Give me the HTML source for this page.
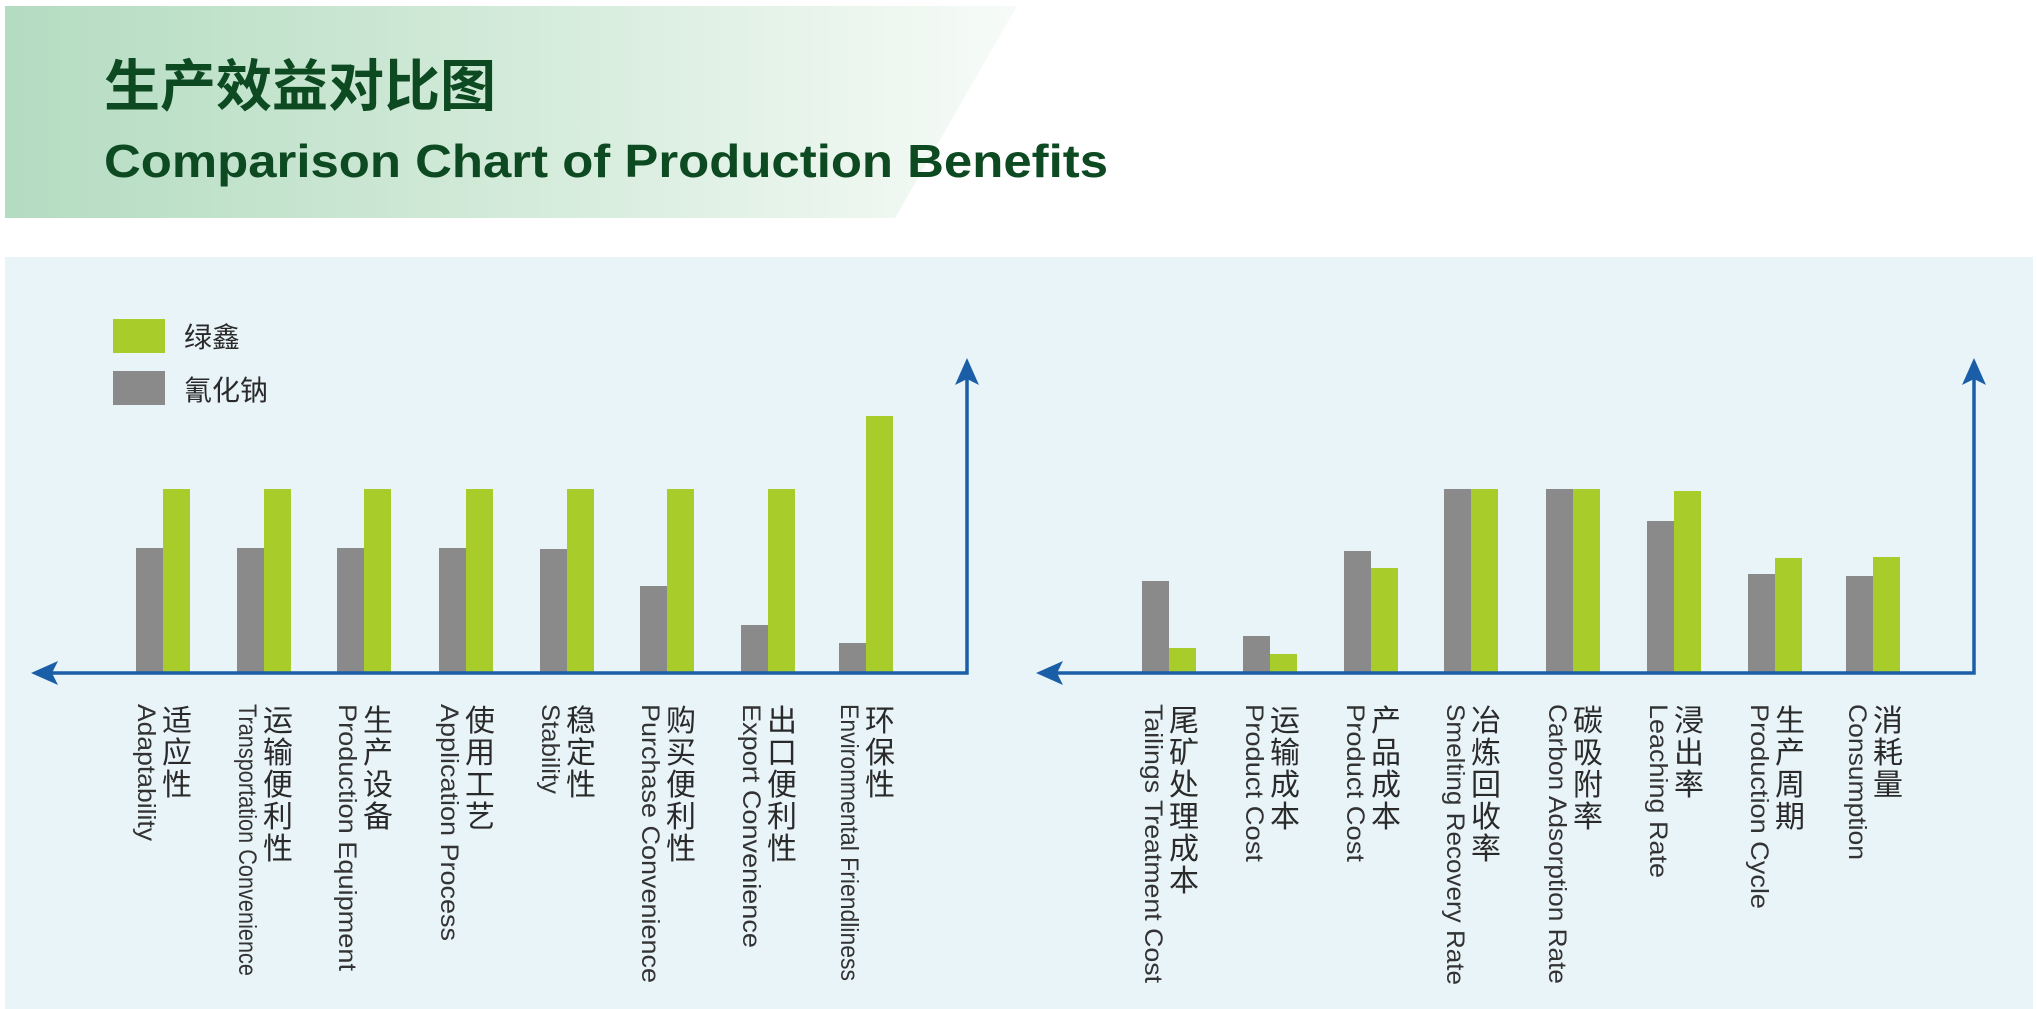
<!DOCTYPE html>
<html><head><meta charset="utf-8"><style>
html,body{margin:0;padding:0;background:#fff;}
svg{display:block;}
.cn{font-family:"Liberation Sans","Noto Sans CJK SC",sans-serif;font-size:30px;fill:#2a2a2a;}
.en{font-family:"Liberation Sans","Noto Sans CJK SC",sans-serif;font-size:25px;fill:#333;}
</style></head><body>
<svg width="2037" height="1009" viewBox="0 0 2037 1009" xmlns="http://www.w3.org/2000/svg">
<defs>
<linearGradient id="bn" x1="0" x2="1" y1="0" y2="0">
<stop offset="0" stop-color="#b4dcc1"/><stop offset="0.55" stop-color="#d6ecdc"/><stop offset="1" stop-color="#f7fbf8"/>
</linearGradient>
</defs>
<rect width="2037" height="1009" fill="#fff"/>
<polygon points="5,6 1017,6 895,218 5,218" fill="url(#bn)"/>
<text x="104" y="106" font-family="Liberation Sans,'Noto Sans CJK SC',sans-serif" font-weight="bold" font-size="56" fill="#0d4a22">生产效益对比图</text>
<text x="104" y="177" font-family="Liberation Sans,sans-serif" font-weight="bold" font-size="46" fill="#0d4a22" textLength="1004" lengthAdjust="spacingAndGlyphs">Comparison Chart of Production Benefits</text>
<rect x="5" y="257" width="2028" height="752" fill="#e9f4f9"/>
<rect x="113" y="319" width="52" height="34" fill="#a8cc2a"/>
<rect x="113" y="371" width="52" height="34" fill="#8a8a8a"/>
<text x="184" y="347" class="cn" style="font-size:28px">绿鑫</text>
<text x="184" y="400" class="cn" style="font-size:28px">氰化钠</text>
<g>
<rect x="136" y="548" width="27" height="125" fill="#8a8a8a"/><rect x="163" y="489" width="27" height="184" fill="#a8cc2a"/>
<rect x="237" y="548" width="27" height="125" fill="#8a8a8a"/><rect x="264" y="489" width="27" height="184" fill="#a8cc2a"/>
<rect x="337" y="548" width="27" height="125" fill="#8a8a8a"/><rect x="364" y="489" width="27" height="184" fill="#a8cc2a"/>
<rect x="439" y="548" width="27" height="125" fill="#8a8a8a"/><rect x="466" y="489" width="27" height="184" fill="#a8cc2a"/>
<rect x="540" y="549" width="27" height="124" fill="#8a8a8a"/><rect x="567" y="489" width="27" height="184" fill="#a8cc2a"/>
<rect x="640" y="586" width="27" height="87" fill="#8a8a8a"/><rect x="667" y="489" width="27" height="184" fill="#a8cc2a"/>
<rect x="741" y="625" width="27" height="48" fill="#8a8a8a"/><rect x="768" y="489" width="27" height="184" fill="#a8cc2a"/>
<rect x="839" y="643" width="27" height="30" fill="#8a8a8a"/><rect x="866" y="416" width="27" height="257" fill="#a8cc2a"/>
<rect x="1142" y="581" width="27" height="92" fill="#8a8a8a"/><rect x="1169" y="648" width="27" height="25" fill="#a8cc2a"/>
<rect x="1243" y="636" width="27" height="37" fill="#8a8a8a"/><rect x="1270" y="654" width="27" height="19" fill="#a8cc2a"/>
<rect x="1344" y="551" width="27" height="122" fill="#8a8a8a"/><rect x="1371" y="568" width="27" height="105" fill="#a8cc2a"/>
<rect x="1444" y="489" width="27" height="184" fill="#8a8a8a"/><rect x="1471" y="489" width="27" height="184" fill="#a8cc2a"/>
<rect x="1546" y="489" width="27" height="184" fill="#8a8a8a"/><rect x="1573" y="489" width="27" height="184" fill="#a8cc2a"/>
<rect x="1647" y="521" width="27" height="152" fill="#8a8a8a"/><rect x="1674" y="491" width="27" height="182" fill="#a8cc2a"/>
<rect x="1748" y="574" width="27" height="99" fill="#8a8a8a"/><rect x="1775" y="558" width="27" height="115" fill="#a8cc2a"/>
<rect x="1846" y="576" width="27" height="97" fill="#8a8a8a"/><rect x="1873" y="557" width="27" height="116" fill="#a8cc2a"/>
</g>
<g stroke="#1b5ea8" stroke-width="3.5" fill="none">
<polyline points="45,673 967,673 967,372"/>
<polyline points="1050,673 1974,673 1974,372"/>
</g>
<g fill="#1b5ea8">
<polygon points="31,673 58,661 52,673 58,685"/>
<polygon points="967,358 955,385 967,379 979,385"/>
<polygon points="1036,673 1063,661 1057,673 1063,685"/>
<polygon points="1974,358 1962,385 1974,379 1986,385"/>
</g>
<g text-anchor="middle" class="cn">
<g transform="translate(177,0)"><text y="731">适</text><text y="763">应</text><text y="795">性</text></g>
<g transform="translate(278,0)"><text y="731">运</text><text y="763">输</text><text y="795">便</text><text y="827">利</text><text y="859">性</text></g>
<g transform="translate(378,0)"><text y="731">生</text><text y="763">产</text><text y="795">设</text><text y="827">备</text></g>
<g transform="translate(480,0)"><text y="731">使</text><text y="763">用</text><text y="795">工</text><text y="827">艺</text></g>
<g transform="translate(581,0)"><text y="731">稳</text><text y="763">定</text><text y="795">性</text></g>
<g transform="translate(681,0)"><text y="731">购</text><text y="763">买</text><text y="795">便</text><text y="827">利</text><text y="859">性</text></g>
<g transform="translate(782,0)"><text y="731">出</text><text y="763">口</text><text y="795">便</text><text y="827">利</text><text y="859">性</text></g>
<g transform="translate(880,0)"><text y="731">环</text><text y="763">保</text><text y="795">性</text></g>
<g transform="translate(1184,0)"><text y="731">尾</text><text y="763">矿</text><text y="795">处</text><text y="827">理</text><text y="859">成</text><text y="891">本</text></g>
<g transform="translate(1285,0)"><text y="731">运</text><text y="763">输</text><text y="795">成</text><text y="827">本</text></g>
<g transform="translate(1386,0)"><text y="731">产</text><text y="763">品</text><text y="795">成</text><text y="827">本</text></g>
<g transform="translate(1486,0)"><text y="731">冶</text><text y="763">炼</text><text y="795">回</text><text y="827">收</text><text y="859">率</text></g>
<g transform="translate(1588,0)"><text y="731">碳</text><text y="763">吸</text><text y="795">附</text><text y="827">率</text></g>
<g transform="translate(1689,0)"><text y="731">浸</text><text y="763">出</text><text y="795">率</text></g>
<g transform="translate(1790,0)"><text y="731">生</text><text y="763">产</text><text y="795">周</text><text y="827">期</text></g>
<g transform="translate(1888,0)"><text y="731">消</text><text y="763">耗</text><text y="795">量</text></g>
</g>
<g class="en" lengthAdjust="spacingAndGlyphs">
<text transform="translate(138,704) rotate(90)" textLength="137" lengthAdjust="spacingAndGlyphs">Adaptability</text>
<text transform="translate(239,704) rotate(90)" textLength="272" lengthAdjust="spacingAndGlyphs">Transportation Convenience</text>
<text transform="translate(339,704) rotate(90)" textLength="267" lengthAdjust="spacingAndGlyphs">Production Equipment</text>
<text transform="translate(441,704) rotate(90)" textLength="237" lengthAdjust="spacingAndGlyphs">Application Process</text>
<text transform="translate(542,704) rotate(90)" textLength="90" lengthAdjust="spacingAndGlyphs">Stability</text>
<text transform="translate(642,704) rotate(90)" textLength="279" lengthAdjust="spacingAndGlyphs">Purchase Convenience</text>
<text transform="translate(743,704) rotate(90)" textLength="244" lengthAdjust="spacingAndGlyphs">Export Convenience</text>
<text transform="translate(841,704) rotate(90)" textLength="277" lengthAdjust="spacingAndGlyphs">Environmental Friendliness</text>
<text transform="translate(1145,704) rotate(90)" textLength="279" lengthAdjust="spacingAndGlyphs">Tailings Treatment Cost</text>
<text transform="translate(1246,704) rotate(90)" textLength="158" lengthAdjust="spacingAndGlyphs">Product Cost</text>
<text transform="translate(1347,704) rotate(90)" textLength="158" lengthAdjust="spacingAndGlyphs">Product Cost</text>
<text transform="translate(1447,704) rotate(90)" textLength="281" lengthAdjust="spacingAndGlyphs">Smelting Recovery Rate</text>
<text transform="translate(1549,704) rotate(90)" textLength="280" lengthAdjust="spacingAndGlyphs">Carbon Adsorption Rate</text>
<text transform="translate(1650,704) rotate(90)" textLength="174" lengthAdjust="spacingAndGlyphs">Leaching Rate</text>
<text transform="translate(1751,704) rotate(90)" textLength="205" lengthAdjust="spacingAndGlyphs">Production Cycle</text>
<text transform="translate(1849,704) rotate(90)" textLength="156" lengthAdjust="spacingAndGlyphs">Consumption</text>
</g>
</svg>
</body></html>
